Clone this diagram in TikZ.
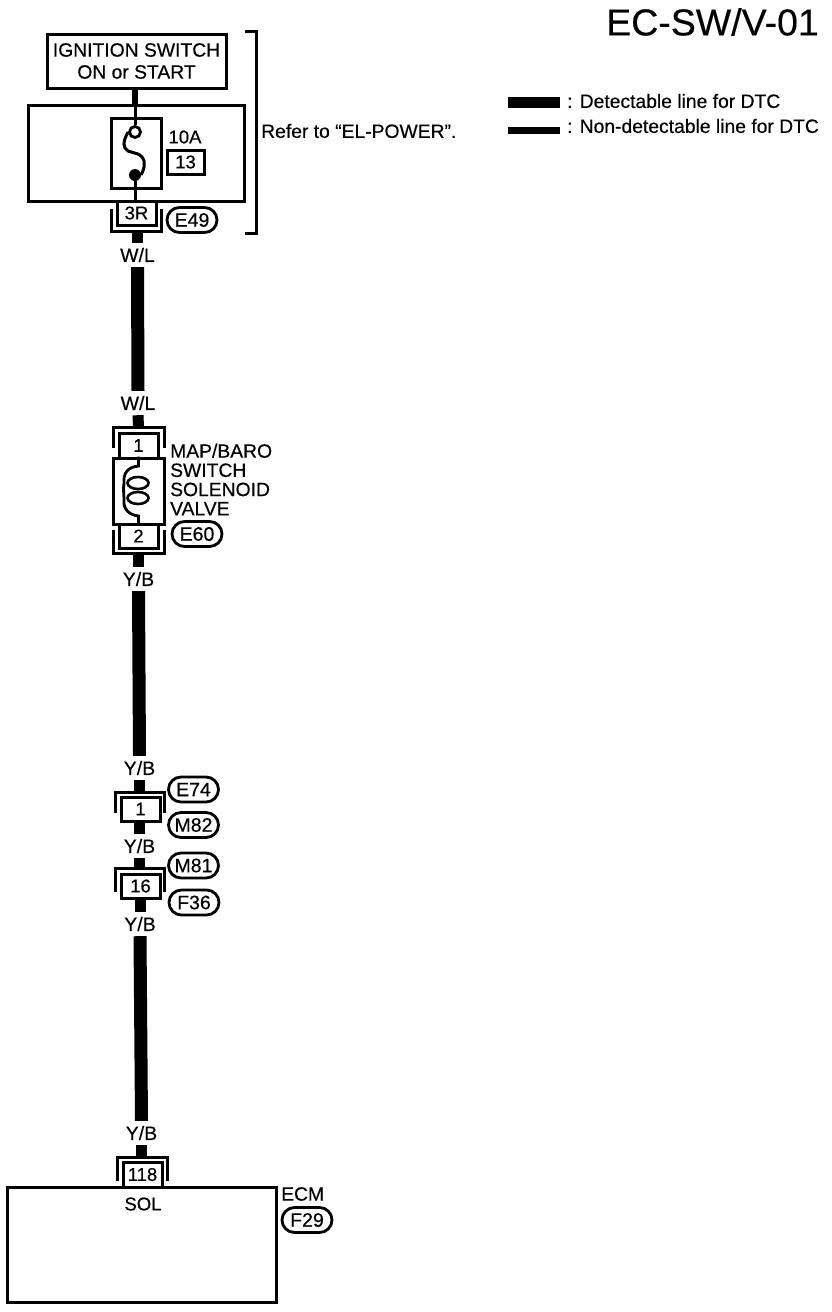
\documentclass[tikz,border=0pt]{standalone}
\usepackage{fontspec}
\setmainfont{Liberation Sans}[FakeBold=0.35]
\usetikzlibrary{shapes.misc}
\tikzset{
  x=1pt,y=-1pt,
  boxline/.style={draw=black,line width=3pt,fill=none,inner sep=0pt},
  pinbox/.style={boxline,font=\fontsize{18.5}{19}\selectfont,text=black},
  tag/.style={draw=black,line width=2.8pt,rounded rectangle,inner sep=0pt,minimum width=50pt,minimum height=25pt,font=\fontsize{19.5}{20}\selectfont},
  wirelabel/.style={inner sep=0pt,minimum width=30pt,minimum height=24pt,font=\fontsize{19.5}{20}\selectfont},
  plain/.style={inner sep=0pt,font=\fontsize{19.3}{20}\selectfont,align=left},
  thickwire/.style={line width=13pt,black},
  shortwire/.style={line width=11pt,black},
  thinwire/.style={line width=3pt,black},
  shell/.style={line width=3pt,black},
}
\begin{document}
\begin{tikzpicture}
\useasboundingbox[fill=white] (0,0) rectangle (832,1312);
% ---- title and legend
\node[inner sep=0pt,anchor=east,font=\fontsize{37.5}{38}\selectfont] (title) at (819,22) {EC-SW/V-01};
\coordinate (lega) at (508,102); \coordinate (legb) at (560,102);
\coordinate (legc) at (508,130); \coordinate (legd) at (560,130);
\draw[line width=11pt,black] (lega) -- (legb);
\draw[line width=7pt,black] (legc) -- (legd);
\node[plain,anchor=west] (legt1) at (567,101) {: Detectable line for DTC};
\node[plain,anchor=west] (legt2) at (567,126) {: Non-detectable line for DTC};
% ---- top group
\node[boxline,minimum width=179pt,minimum height=54pt,align=center,font=\fontsize{19.3}{22}\selectfont] (ign) at (136.5,61) {IGNITION SWITCH\\ON or START};
\node[boxline,minimum width=216pt,minimum height=96pt] (fusebox) at (136,153) {};
\node[boxline,minimum width=50pt,minimum height=70pt] (fuse) at (136,153) {};
\node[circle,draw=black,line width=2.8pt,inner sep=0pt,minimum size=11pt] (fin) at (135,132) {};
\node[circle,fill=black,inner sep=0pt,minimum size=12pt] (fout) at (135,175) {};
\node[plain,font=\fontsize{18.5}{19}\selectfont] (amp) at (185,137) {10A};
\node[pinbox,minimum width=37pt,minimum height=24pt] (fnum) at (185.5,162) {13};
\node[pinbox,minimum width=39pt,minimum height=24pt] (p3r) at (136.5,213) {3R};
\node[tag] (e49) at (192,220) {E49};
\draw[line width=6pt,black] (ign.south -| fin) -- (fusebox.north -| fin);
\draw[thinwire] (fusebox.north -| fin) -- (fin.north);
\draw[line width=3pt,black] (fin.west) .. controls (126,136) and (122,143) .. (125,148)
  .. controls (128,154) and (137,151) .. (142,157)
  .. controls (147,163) and (143,171) .. (fout.east);
\draw[thinwire] (fout) -- (p3r.north -| fout);
\draw[shell] (111,209) -- (111,231) -- (161,231) -- (161,209);
\coordinate (s1) at (137.5,231);
\node[wirelabel] (wl1) at (137.5,255) {W/L};
\draw[shortwire] (s1) -- (wl1.north);
\draw[line width=3pt,black] (245,31) -- (256.5,31) -- (256.5,233) -- (245,233);
\node[plain,anchor=west] (refer) at (261,131) {Refer to “EL-POWER”.};
% ---- solenoid
\node[wirelabel] (wl2) at (138,403) {W/L};
\draw[thickwire] (wl1.south) -- (wl2.north);
\node[pinbox,minimum width=39pt,minimum height=25pt] (p1) at (138.5,445.5) {1};
\node[boxline,minimum width=51pt,minimum height=66pt] (sol) at (138.5,491) {};
\node[pinbox,minimum width=39pt,minimum height=24pt] (p2) at (138.5,536) {2};
\draw[shell] (113,448) -- (113,427.5) -- (164,427.5) -- (164,448);
\draw[shell] (113,530) -- (113,553) -- (164,553) -- (164,530);
\coordinate (s2t) at (138.5,427);
\draw[shortwire] (wl2.south) -- (s2t);
\draw[line width=2.8pt,black] (sol.north) -- (138.5,466) .. controls (128,467) and (123,473) .. (124,483)
  .. controls (123,490) and (124,494) .. (124,500) .. controls (123,509) and (129,515) .. (138.5,516) -- (sol.south);
\draw[line width=2.6pt,black] (138,483) ellipse[x radius=10.5,y radius=6];
\draw[line width=2.6pt,black] (138,498) ellipse[x radius=10.5,y radius=6];
\node[plain,anchor=west,align=left,font=\fontsize{19.3}{19.2}\selectfont] (soltext) at (170,479.5) {MAP/BARO\\SWITCH\\SOLENOID\\VALVE};
\node[tag] (e60) at (197,534) {E60};
\node[wirelabel] (yb1) at (138.5,579) {Y/B};
\coordinate (s2b) at (138.5,553);
\draw[shortwire] (s2b) -- (yb1.north);
% ---- joint connector E74/M82
\node[wirelabel] (yb2) at (139.5,768) {Y/B};
\draw[thickwire] (yb1.south) -- (yb2.north);
\node[pinbox,minimum width=39pt,minimum height=24pt] (p1b) at (140.5,809) {1};
\draw[shell] (115,813) -- (115,792.5) -- (164,792.5) -- (164,813);
\coordinate (s3t) at (139.5,792);
\draw[shortwire] (yb2.south) -- (s3t);
\node[tag] (e74) at (193.5,789.5) {E74};
\node[tag] (m82) at (193.5,825) {M82};
\node[wirelabel] (yb3) at (139.5,846) {Y/B};
\draw[shortwire] (p1b.south -| yb3) -- (yb3.north);
\node[pinbox,minimum width=39pt,minimum height=24pt] (p16) at (140.5,886) {16};
\draw[shell] (115,892) -- (115,868.5) -- (164,868.5) -- (164,892);
\coordinate (s4t) at (139.5,868);
\draw[shortwire] (yb3.south) -- (s4t);
\node[tag] (m81) at (193.5,865.5) {M81};
\node[tag] (f36) at (194,902.5) {F36};
\node[wirelabel] (yb4) at (140,924) {Y/B};
\draw[shortwire] (p16.south -| yb4) -- (yb4.north);
% ---- ECM
\node[wirelabel] (yb5) at (141.5,1133) {Y/B};
\draw[thickwire] (yb4.south) -- (yb5.north);
\node[boxline,minimum width=269pt,minimum height=115pt] (ecm) at (141.5,1244.5) {};
\node[pinbox,minimum width=39pt,minimum height=25pt] (p118) at (142.5,1174.5) {118};
\draw[shell] (117,1181) -- (117,1157.5) -- (167,1157.5) -- (167,1181);
\coordinate (s5t) at (141.5,1157);
\draw[shortwire] (yb5.south) -- (s5t);
\node[plain,font=\fontsize{18.5}{19}\selectfont] (solt) at (143,1204) {SOL};
\node[plain,anchor=west] (ecmt) at (281,1194) {ECM};
\node[tag] (f29) at (307,1220) {F29};
\end{tikzpicture}
\end{document}
